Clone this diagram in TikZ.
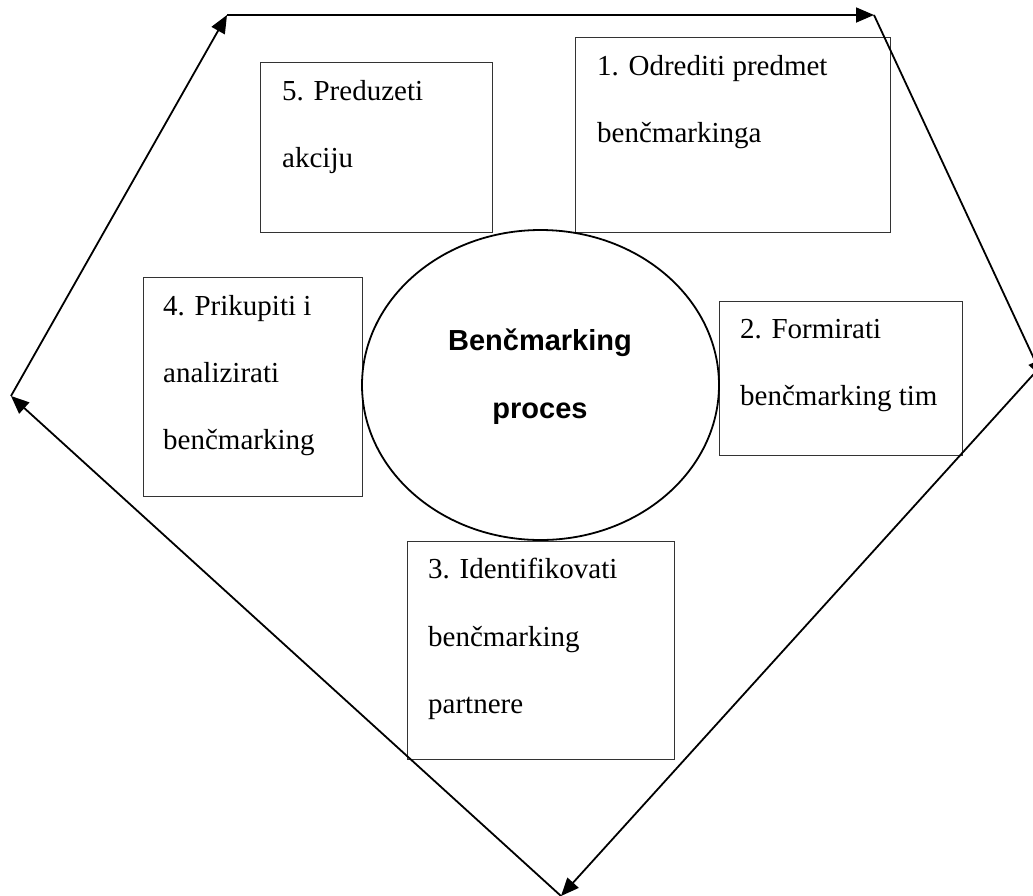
\documentclass[tikz,border=0pt]{standalone}
\usepackage{fontspec}
\setmainfont{Liberation Serif}
\setsansfont{Liberation Sans}
\usetikzlibrary{arrows.meta,shapes.geometric}
\begin{document}
\begin{tikzpicture}[x=1pt,y=-1pt,
  box/.style={draw=black!80, line width=1.3pt, inner sep=0pt, anchor=north west},
  txt/.style={anchor=base west, inner sep=0pt, font=\fontsize{29}{34}\selectfont},
  ctxt/.style={anchor=base, inner sep=0pt, font=\sffamily\bfseries\fontsize{29}{34}\selectfont},
  cyc/.style={line width=1.8pt, -{Triangle[length=18pt,width=15pt]}},
]
\useasboundingbox (0,0) rectangle (1033,895);

% boxes
\node[box, minimum width=315pt, minimum height=195pt] (b1) at (575,37) {};
\node[box, minimum width=232pt, minimum height=170pt] (b5) at (260,62) {};
\node[box, minimum width=219pt, minimum height=219pt] (b4) at (143,277) {};
\node[box, minimum width=243pt, minimum height=154pt] (b2) at (719,301) {};
\node[box, minimum width=267pt, minimum height=218pt] (b3) at (407,541) {};
\node[ellipse, draw, line width=1.8pt, inner sep=0pt, minimum width=357pt, minimum height=310pt] (ell) at (540.5,385) {};

% texts
\node[txt] (t1a) at (597,75) {1. Odrediti predmet};
\node[txt] (t1b) at (597,142) {benčmarkinga};
\node[txt] (t5a) at (282,100) {5. Preduzeti};
\node[txt] (t5b) at (282,167) {akciju};
\node[txt] (t4a) at (163,315) {4. Prikupiti i};
\node[txt] (t4b) at (163,382) {analizirati};
\node[txt] (t4c) at (163,449) {benčmarking};
\node[txt] (t2a) at (740,338) {2. Formirati};
\node[txt] (t2b) at (740,405) {benčmarking tim};
\node[txt] (t3a) at (428,578) {3. Identifikovati};
\node[txt] (t3b) at (428,646) {benčmarking};
\node[txt] (t3c) at (428,713) {partnere};
\node[ctxt] (c1) at (540,350) {Benčmarking};
\node[ctxt] (c2) at (540,418) {proces};

% cycle arrows
\coordinate (A) at (227,15);
\coordinate (B) at (874,15);
\coordinate (C) at (1043,378);
\coordinate (C2) at (1041,366);
\coordinate (D) at (561,896);
\coordinate (E) at (11,396);
\draw[cyc] (A) -- (B);
\draw[cyc] (B) -- (C);
\draw[cyc] (C2) -- (D);
\draw[cyc] (D) -- (E);
\draw[cyc] (E) -- (A);
\end{tikzpicture}
\end{document}
